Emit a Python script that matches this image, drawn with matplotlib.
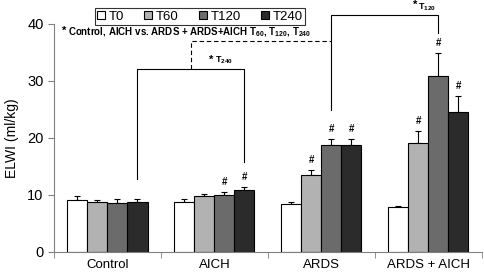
import matplotlib.pyplot as plt
import numpy as np

plt.rcParams['font.family'] = ['Liberation Sans', 'DejaVu Sans']
plt.rcParams['mathtext.default'] = 'regular'

groups = ['Control', 'AICH', 'ARDS', 'ARDS + AICH']
times = ['T0', 'T60', 'T120', 'T240']
colors = ['#ffffff', '#b2b2b2', '#6b6b6b', '#2b2b2b']

# mean ELWI per group, one list per time point
t0 = [9.0, 8.8, 8.3, 7.8]
t60 = [8.7, 9.7, 13.5, 19.0]
t120 = [8.6, 9.95, 18.8, 30.9]
t240 = [8.75, 10.9, 18.8, 24.5]
means = [t0, t60, t120, t240]

# upper error (sd)
e0 = [0.75, 0.4, 0.5, 0.15]
e60 = [0.35, 0.5, 0.9, 2.1]
e120 = [0.7, 0.45, 0.9, 4.0]
e240 = [0.55, 0.5, 0.9, 2.8]
errs = [e0, e60, e120, e240]

# bars marked with # (group index, time index)
hashes = [(1, 2), (1, 3), (2, 1), (2, 2), (2, 3), (3, 1), (3, 2), (3, 3)]

fig = plt.figure(figsize=(4.84, 2.73), dpi=100)
ax = fig.add_axes([0.1116, 0.078, 0.884, 0.835])

x = np.arange(len(groups))
w = 0.187
offs = (np.arange(4) - 1.5) * w
for i in range(4):
    ax.bar(x + offs[i], means[i], w, color=colors[i], edgecolor='black',
           linewidth=0.8, label=times[i], zorder=2)
    ax.errorbar(x + offs[i], means[i], yerr=[np.zeros(4), errs[i]], fmt='none',
                ecolor='black', elinewidth=0.8, capsize=2.5, capthick=0.8, zorder=1)

for g, t in hashes:
    top = means[t][g] + errs[t][g]
    ax.text(x[g] + offs[t], top + 0.9, '#', ha='center', va='bottom',
            fontsize=7, fontweight='bold')

# bracket T240: Control vs AICH
xa = x[0] + offs[3]
xb = x[1] + offs[3]
yb = 32.0
ax.plot([xa, xa, xb, xb], [means[3][0] + errs[3][0] + 3.4, yb, yb,
                           means[3][1] + errs[3][1] + 4.3],
        color='black', lw=0.8, clip_on=False)
ax.text(xb - 0.33, yb + 0.8, '*', fontsize=8, fontweight='bold', va='bottom')
ax.text(xb - 0.28, yb + 0.5, r'T$_{240}$', fontsize=6.5, fontweight='bold', va='bottom')

# bracket T120: ARDS vs ARDS + AICH
xc = x[2] + offs[2]
xd = x[3] + offs[2]
yc = 41.6
ax.plot([xc, xc, xd, xd], [means[2][2] + errs[2][2] + 5.1, yc, yc,
                           means[2][3] + errs[2][3] + 3.5],
        color='black', lw=0.8, clip_on=False)
ax.text(xd - 0.24, yc + 0.8, '*', fontsize=8, fontweight='bold', va='bottom')
ax.text(xd - 0.19, yc + 0.3, r'T$_{120}$', fontsize=6.5, fontweight='bold', va='bottom')

# dashed link
xm = (xa + xb) / 2
ax.plot([xm, xm, xc], [yb, 37.0, 37.0], color='black', lw=0.8, ls=(0, (4, 2.5)),
        clip_on=False)
ax.text(-0.43, 37.9, '*', fontsize=8, fontweight='bold', va='bottom')
ax.text(-0.37, 37.3, r'Control, AICH vs. ARDS + ARDS+AICH T$_{60}$, T$_{120}$, T$_{240}$',
        fontsize=7, fontweight='bold', va='bottom')

ax.set_xlim(-0.5, 3.5)
ax.set_ylim(0, 40)
ax.set_yticks([0, 10, 20, 30, 40])
ax.set_xticks(x)
ax.set_xticklabels(groups, fontsize=9.5)
ax.set_xticks(np.arange(-0.5, 4, 1), minor=True)
ax.tick_params(axis='x', which='major', length=0, pad=5)
ax.tick_params(axis='x', which='minor', length=4, color='#808080')
ax.tick_params(axis='y', labelsize=10.5, length=4, color='#808080')
ax.set_ylabel('ELWI (ml/kg)', fontsize=10, labelpad=6)
for s in ['top', 'right']:
    ax.spines[s].set_visible(False)
for s in ['left', 'bottom']:
    ax.spines[s].set_color('#808080')

leg = fig.legend(loc='upper left', bbox_to_anchor=(0.182, 0.995), ncol=4,
                 fontsize=9.5, frameon=True, fancybox=False, edgecolor='black',
                 handlelength=0.6, handleheight=0.6, handletextpad=0.3,
                 columnspacing=1.5, borderpad=0.2)
leg.get_frame().set_linewidth(0.8)

plt.savefig('out.png', dpi=100)
